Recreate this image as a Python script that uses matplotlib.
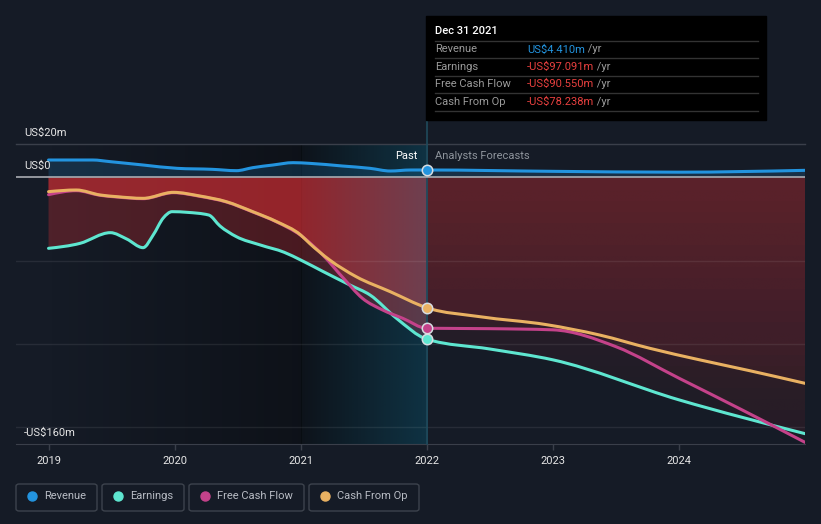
import numpy as np
import matplotlib.pyplot as plt
from matplotlib.patches import FancyBboxPatch, Rectangle, PathPatch
from matplotlib.path import Path
from matplotlib.lines import Line2D
from matplotlib.text import Annotation

plt.rcParams['font.family'] = ['Roboto', 'DejaVu Sans']

# ---- data, US$ m ----
rev_x = [2019.0, 2019.35, 2019.49, 2019.75, 2020.02, 2020.30, 2020.49, 2020.62, 2020.78,
         2020.94, 2021.07, 2021.33, 2021.55, 2021.71, 2021.87, 2022.0, 2023.0, 2024.0, 2025.0]
rev_y = [10.4, 10.4, 9.4, 7.4, 5.4, 4.8, 4.0, 5.8, 7.4,
         8.8, 8.4, 6.8, 5.4, 3.8, 4.4, 4.41, 3.6, 3.1, 4.2]

earn_x = [2019.0, 2019.25, 2019.49, 2019.62, 2019.75, 2019.83, 2019.91, 2019.98, 2020.10,
          2020.27, 2020.36, 2020.49, 2020.68, 2020.87, 2021.0, 2021.18, 2021.39, 2021.55,
          2021.76, 2022.0, 2022.5, 2023.0, 2024.0, 2025.0]
earn_y = [-42.6, -39.6, -33.2, -37.0, -42.2, -34.6, -24.4, -20.6, -21.0,
          -22.6, -29.2, -35.6, -40.6, -45.0, -49.6, -56.6, -64.6, -70.6,
          -84.6, -97.091, -103.0, -109.5, -133.5, -153.8]

fcf_x = [2019.0, 2019.22, 2019.41, 2019.54, 2019.75, 2019.99, 2020.20, 2020.41, 2020.62,
         2020.81, 2021.0, 2021.18, 2021.34, 2021.49, 2021.65, 2021.81, 2022.0, 2022.5,
         2023.0, 2023.5, 2024.0, 2024.5, 2025.0]
fcf_y = [-10.4, -8.0, -10.8, -11.8, -12.8, -9.2, -11.4, -14.8, -20.8,
         -26.8, -34.8, -47.0, -60.6, -72.6, -79.6, -84.6, -90.55, -90.8,
         -91.5, -101.6, -120.5, -139.5, -159.0]

cfo_x = [2019.0, 2019.22, 2019.41, 2019.54, 2019.75, 2019.99, 2020.20, 2020.41, 2020.62,
         2020.81, 2021.0, 2021.07, 2021.23, 2021.44, 2021.71, 2022.0, 2022.42, 2022.95,
         2023.37, 2023.77, 2024.17, 2024.56, 2025.0]
cfo_y = [-8.6, -7.6, -10.6, -11.6, -12.6, -9.0, -11.2, -14.6, -20.6,
         -26.6, -34.6, -39.6, -49.6, -59.6, -68.6, -78.238, -83.6, -88.4,
         -94.6, -102.6, -109.6, -116.0, -123.6]

names = ['Revenue', 'Earnings', 'Free Cash Flow', 'Cash From Op']
colors = ['#2394df', '#5ee6d0', '#c4428a', '#e9b162']
xs = [rev_x, earn_x, fcf_x, cfo_x]
ys = [rev_y, earn_y, fcf_y, cfo_y]

years = [2019, 2020, 2021, 2022, 2023, 2024]
ytick_vals = [20, 0, -160]
ytick_labels = ['US$20m', 'US$0', '-US$160m']
grid_vals = [-50, -100, -150]
now = 2022.0
tip_date = 'Dec 31 2021'

BG = '#151b26'
RED = '#eb3237'
W, H = 821, 524


def fxy(px, py):
    return px / W, 1 - py / H


def monotone_path(x, y):
    # bezier path through the points, monotone-x style (like d3 curveMonotoneX)
    x, y = np.asarray(x, float), np.asarray(y, float)
    h = np.diff(x)
    s = np.diff(y) / h
    n = len(x)
    t = np.zeros(n)
    for i in range(1, n - 1):
        p = (s[i - 1] * h[i] + s[i] * h[i - 1]) / (h[i - 1] + h[i])
        t[i] = (np.sign(s[i - 1]) + np.sign(s[i])) * min(abs(s[i - 1]), abs(s[i]), 0.5 * abs(p))
    t[0] = (3 * s[0] - t[1]) / 2 if n > 2 else s[0]
    t[-1] = (3 * s[-1] - t[-2]) / 2 if n > 2 else s[-1]
    verts = [(x[0], y[0])]
    codes = [Path.MOVETO]
    for i in range(n - 1):
        d = h[i] / 3
        verts += [(x[i] + d, y[i] + d * t[i]), (x[i + 1] - d, y[i + 1] - d * t[i + 1]),
                  (x[i + 1], y[i + 1])]
        codes += [Path.CURVE4] * 3
    return verts, codes


def area_path(x, y):
    verts, codes = monotone_path(x, y)
    verts += [(x[-1], 0), (x[0], 0), (x[0], 0)]
    codes += [Path.LINETO, Path.LINETO, Path.CLOSEPOLY]
    return Path(verts, codes)


fig = plt.figure(figsize=(W / 100, H / 100), dpi=100, facecolor=BG)
ax = fig.add_axes([16 / W, 1 - 444 / H, 789 / W, 300 / H])
ax.set_facecolor(BG)

# past shading
g = np.zeros((2, 256, 4))
g[..., 3] = np.linspace(0, 0.35, 256)
ax.imshow(g, extent=[2019, 2021, -160, 20], aspect='auto', zorder=0.5, interpolation='bilinear')
ax.axvspan(2021, now, color='black', alpha=0.35, lw=0, zorder=0.5)
t = np.zeros((2, 256, 4))
t[..., :3] = np.array([20, 130, 170]) / 255
t[..., 3] = np.linspace(0.02, 0.3, 256)
ax.imshow(t, extent=[2021, now, -160, 20], aspect='auto', zorder=3, interpolation='bilinear')

# fills
ax.add_patch(PathPatch(area_path(rev_x, rev_y), fc=colors[0], alpha=0.18, lw=0, zorder=2))
rg = np.zeros((256, 2, 4))
rg[..., :3] = np.array([235, 50, 55]) / 255
rg[..., 3] = np.linspace(0.13, 0.035, 256)[:, None]
for x, y in zip(xs[1:], ys[1:]):
    k = x.index(now)
    ax.add_patch(PathPatch(area_path(x[:k + 1], y[:k + 1]), fc=RED, alpha=0.27, lw=0, zorder=2))
    clip = PathPatch(area_path(x[k:], y[k:]), fc='none', lw=0, transform=ax.transData)
    im = ax.imshow(rg, extent=[now, 2025.0, -160, 0], aspect='auto', zorder=2,
                   interpolation='bilinear')
    im.set_clip_path(clip)

# grid
for v in grid_vals:
    ax.axhline(v, color='white', alpha=0.08, lw=1, zorder=3.2)
ax.axhline(20, color='#3a3f4a', lw=1, zorder=3.2, clip_on=False)
ax.axhline(0, color='#a9acb2', lw=1.2, zorder=3.5)
ax.axvline(now, ymin=0, ymax=1 + 24 / 300, color='#1f4a5c', lw=1.2, zorder=3.4, clip_on=False)

# lines + markers
for x, y, c in zip(xs, ys, colors):
    verts, codes = monotone_path(x, y)
    ax.add_patch(PathPatch(Path(verts, codes), fc='none', ec=c, lw=2.2, zorder=5,
                           capstyle='round', joinstyle='round'))
    ax.plot(now, y[x.index(now)], 'o', ms=7.5, mfc=c, mec='#d8dde2', mew=1.1, zorder=6)

ax.set_xlim(2018.742, 2025.0)
ax.set_ylim(-160, 20)
for s in ['top', 'left', 'right']:
    ax.spines[s].set_visible(False)
ax.spines['bottom'].set_color('#3a3f4a')
ax.set_xticks(years)
ax.set_xticklabels([str(y) for y in years])
ax.set_yticks([])
ax.tick_params(axis='x', colors='#3a3f4a', length=4, width=1, labelcolor='#e6e6e6',
               labelsize=8, pad=5)

for v, lab in zip(ytick_vals, ytick_labels):
    ax.annotate(lab, xy=(0, v), xycoords=('axes fraction', 'data'), xytext=(5.8, 5.8),
                textcoords='offset points', color='#e6e6e6', fontsize=8, va='baseline',
                annotation_clip=False, zorder=7)

ax.annotate('Past', xy=(now, 20), xytext=(-6.5, -8.6), textcoords='offset points',
            ha='right', va='center', color='white', fontsize=8, zorder=7)
ax.annotate('Analysts Forecasts', xy=(now, 20), xytext=(5.8, -8.6), textcoords='offset points',
            ha='left', va='center', color='#8e949c', fontsize=8, zorder=7)

# tooltip
fig.patches.append(Rectangle(fxy(426, 120), 340 / W, 104 / H, transform=fig.transFigure,
                             color='black', zorder=10))
fig.text(*fxy(435, 31), tip_date, color='white', fontsize=8, fontweight='medium',
         va='center', zorder=11)
for i, (n, x, y, c) in enumerate(zip(names, xs, ys, colors)):
    ly = 41 + i * 17.4
    fig.add_artist(Line2D([435 / W, 758 / W], [1 - ly / H] * 2, color='#333333', lw=1,
                          transform=fig.transFigure, zorder=11))
    ty = ly + 8.5
    fig.text(*fxy(435, ty), n, color='#9a9a9a', fontsize=8, va='center', zorder=11)
    v = y[x.index(now)]
    vtxt = ('-' if v < 0 else '') + 'US$%.3fm' % abs(v)
    tt = fig.text(*fxy(527, ty), vtxt, color=c if v >= 0 else '#e8403f', fontsize=8,
                  va='center', zorder=11)
    fig.add_artist(Annotation(' /yr', xy=(1, 0.5), xycoords=tt, va='center', ha='left',
                              color='#9a9a9a', fontsize=8, zorder=11))
fig.add_artist(Line2D([435 / W, 758 / W], [1 - (41 + 4 * 17.4) / H] * 2, color='#333333',
                      lw=1, transform=fig.transFigure, zorder=11))

# legend
box_left = [16, 102, 189, 309]
box_w = [81, 82, 115, 110]
for n, c, bx, bw in zip(names, colors, box_left, box_w):
    fig.patches.append(FancyBboxPatch(fxy(bx, 511), bw / W, 27 / H,
                                      boxstyle='round,pad=0,rounding_size=0.004',
                                      transform=fig.transFigure, fc='none', ec='#3d434d', lw=1))
    fig.add_artist(Line2D([(bx + 16) / W], [1 - 496 / H], marker='o', ms=6.5, color=c,
                          transform=fig.transFigure))
    fig.text(*fxy(bx + 28, 496), n, color='#b8bcc4', fontsize=8, va='center')

fig.savefig('out.png', dpi=100, facecolor=BG)
